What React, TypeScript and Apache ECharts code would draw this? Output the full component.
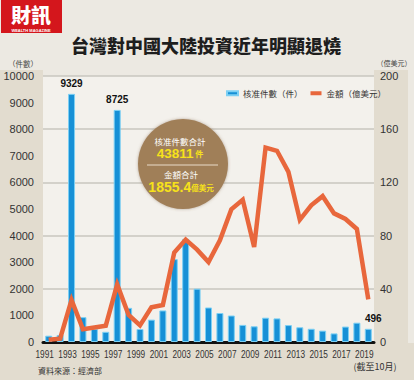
import React, { useEffect, useRef } from "react";
import * as echarts from "echarts";

const years = [
  "1991", "1992", "1993", "1994", "1995", "1996", "1997", "1998", "1999", "2000",
  "2001", "2002", "2003", "2004", "2005", "2006", "2007", "2008", "2009", "2010",
  "2011", "2012", "2013", "2014", "2015", "2016", "2017", "2018", "2019",
];
const caseCounts = [
  237, 264, 9329, 934, 490, 383, 8725, 1284, 488, 840,
  1186, 3116, 3875, 2004, 1297, 1090, 996, 643, 590, 914,
  887, 636, 554, 497, 427, 323, 580, 726, 496,
];
const amounts = [
  1.74, 2.47, 31.68, 9.62, 10.93, 12.29, 43.34, 20.35, 12.53, 26.07,
  27.84, 67.23, 76.99, 69.41, 60.07, 76.42, 99.71, 106.91, 71.43, 146.18,
  143.77, 127.92, 91.9, 102.77, 109.65, 96.71, 92.49, 84.98, 32.01,
];
const tickYears = [
  "1991", "1993", "1995", "1997", "1999", "2001", "2003", "2005",
  "2007", "2009", "2011", "2013", "2015", "2017", "2019",
];
const labeledCaseYears = ["1993", "1997", "2019"];
const labeledAmountYears: Record<string, any> = {
  "2010": { position: "left", offset: [-2, 0] },
  "2011": { position: "right", offset: [2, 9] },
  "2019": { position: "bottom", offset: [-15, 0] },
};
const seriesNames = ["核准件數（件）", "金額（億美元）"];
const totalCases = "43811";
const totalAmount = "1855.4";

const numFont = "'Liberation Sans', sans-serif";
const cjkFont = "'Noto Sans CJK TC', 'Noto Sans CJK SC', sans-serif";

export default function App() {
  const ref = useRef<HTMLDivElement>(null);
  useEffect(() => {
    if (!ref.current) return;
    const chart = echarts.init(ref.current, null, { renderer: "svg" });
    const barData = caseCounts.map((v, i) =>
      labeledCaseYears.includes(years[i])
        ? {
            value: v,
            label: {
              show: true,
              position: "top",
              offset: years[i] === "2019" ? [5, 0] : [0, 0],
              fontSize: 10,
              fontWeight: "bold",
              color: "#111",
              fontFamily: numFont,
            },
          }
        : v
    );
    const lineData = amounts.map((v, i) =>
      labeledAmountYears[years[i]]
        ? {
            value: v,
            label: {
              show: true,
              ...labeledAmountYears[years[i]],
              fontSize: 9.5,
              color: "#9b2335",
              fontFamily: numFont,
            },
          }
        : v
    );
    const option: any = {
      animation: false,
      backgroundColor: "#ece9e2",
      grid: {
        left: 43,
        right: 40,
        top: 76,
        bottom: 38,
        show: true,
        backgroundColor: "#f3f1ec",
        borderWidth: 0,
      },
      legend: {
        data: seriesNames,
        left: 221,
        top: 84,
        icon: "rect",
        itemWidth: 11,
        itemHeight: 4,
        itemGap: 8,
        textStyle: { fontSize: 8.5, color: "#333", fontFamily: cjkFont },
      },
      xAxis: {
        type: "category",
        data: years,
        boundaryGap: true,
        axisLine: { show: true, lineStyle: { color: "#111", width: 3 } },
        axisTick: { show: false },
        axisLabel: { show: false },
      },
      yAxis: [
        {
          type: "value",
          min: 0,
          max: 10000,
          interval: 1000,
          axisLine: { show: false },
          axisTick: { show: false },
          splitLine: { show: false },
          axisLabel: {
            fontSize: 11,
            color: "#333",
            margin: 9,
            fontFamily: numFont,
            formatter: (v: number) => String(v),
          },
        },
        {
          type: "value",
          min: 0,
          max: 200,
          interval: 40,
          position: "right",
          axisLine: { show: false },
          axisTick: { show: false },
          splitLine: { show: true, lineStyle: { color: "#c9c6bf", width: 1.5 } },
          axisLabel: {
            fontSize: 11,
            color: "#333",
            margin: 6,
            fontFamily: numFont,
            formatter: (v: number) => String(v),
          },
        },
      ],
      series: [
        {
          name: seriesNames[0],
          type: "bar",
          yAxisIndex: 0,
          data: barData,
          barWidth: 7,
          itemStyle: { color: "#1690d6", borderColor: "#7cd0f4", borderWidth: 1 },
          z: 2,
        },
        {
          name: seriesNames[1],
          type: "line",
          yAxisIndex: 1,
          data: lineData,
          showSymbol: false,
          symbol: "circle",
          symbolSize: 1,
          lineStyle: { color: "#e8673c", width: 4.5, join: "miter" },
          itemStyle: { color: "#e8673c" },
          z: 3,
        },
        {
          name: "yearTicks",
          type: "custom",
          yAxisIndex: 0,
          data: tickYears.map((y) => [y, 0]),
          encode: { x: 0, y: 1 },
          clip: false,
          silent: true,
          z: 5,
          renderItem: (params: any, api: any) => {
            const p = api.coord([api.value(0), 0]);
            return {
              type: "text",
              x: p[0] - 4,
              y: p[1] + 6,
              scaleX: 0.72,
              style: {
                text: tickYears[params.dataIndex],
                font: "11.5px " + numFont,
                fill: "#333",
                align: "center",
                verticalAlign: "top",
              },
            };
          },
        },
      ],
      graphic: [
        { type: "rect", shape: { x: 0, y: 70, width: 43, height: 310 }, style: { fill: "#e2dccf" }, z: -10, silent: true },
        { type: "rect", shape: { x: 0, y: 343, width: 414, height: 37 }, style: { fill: "#e2dccf" }, z: -10, silent: true },
        { type: "rect", shape: { x: 374, y: 70, width: 34, height: 310 }, style: { fill: "#e2dccf" }, z: -10, silent: true },
        { type: "rect", shape: { x: 1, y: 0, width: 61, height: 33 }, style: { fill: "#d4161c" } },
        {
          type: "text",
          x: 31,
          y: 14,
          style: {
            text: "財訊",
            fill: "#fff",
            font: "900 20px 'Noto Sans CJK TC', serif",
            align: "center",
            verticalAlign: "middle",
          },
        },
        {
          type: "text",
          x: 31,
          y: 30,
          style: {
            text: "WEALTH MAGAZINE",
            fill: "#fff",
            font: "bold 4px 'Liberation Sans', sans-serif",
            align: "center",
            verticalAlign: "middle",
          },
        },
        {
          type: "text",
          x: 206,
          y: 45,
          style: {
            text: "台灣對中國大陸投資近年明顯退燒",
            fill: "#1e1e1e",
            font: "900 18px " + cjkFont,
            align: "center",
            verticalAlign: "middle",
          },
        },
        {
          type: "text",
          x: 23,
          y: 63,
          style: { text: "（件數）", fill: "#444", font: "7.5px " + cjkFont, align: "center", verticalAlign: "middle" },
        },
        {
          type: "text",
          x: 394,
          y: 63,
          style: { text: "（億美元）", fill: "#444", font: "7px " + cjkFont, align: "center", verticalAlign: "middle" },
        },
        {
          type: "text",
          x: 70,
          y: 370,
          style: { text: "資料來源：經濟部", fill: "#333", font: "8px " + cjkFont, align: "center", verticalAlign: "middle" },
        },
        {
          type: "text",
          x: 375,
          y: 366,
          style: { text: "(截至10月)", fill: "#333", font: "9px " + cjkFont, align: "center", verticalAlign: "middle" },
        },
        {
          type: "circle",
          shape: { cx: 183, cy: 164, r: 45 },
          style: { fill: "#a07f59", shadowBlur: 3, shadowColor: "rgba(120,90,60,0.5)" },
          z: 50,
        },
        {
          type: "text",
          x: 180,
          y: 141,
          z: 51,
          style: { text: "核准件數合計", fill: "#fff", font: "8.5px " + cjkFont, align: "center", verticalAlign: "middle" },
        },
        {
          type: "text",
          x: 180,
          y: 153,
          z: 51,
          style: {
            text: "{a|" + totalCases + "}{b| 件}",
            align: "center",
            verticalAlign: "middle",
            rich: {
              a: { fill: "#f7e21a", font: "bold 13.5px 'Liberation Sans', sans-serif" },
              b: { fill: "#f7e21a", font: "bold 8px " + cjkFont },
            },
          },
        },
        {
          type: "line",
          shape: { x1: 147, y1: 165, x2: 218, y2: 165 },
          style: { stroke: "#e9dcc8", lineWidth: 1 },
          z: 51,
        },
        {
          type: "text",
          x: 181,
          y: 174,
          z: 51,
          style: { text: "金額合計", fill: "#fff", font: "8.5px " + cjkFont, align: "center", verticalAlign: "middle" },
        },
        {
          type: "text",
          x: 181,
          y: 187,
          z: 51,
          style: {
            text: "{a|" + totalAmount + "}{b|億美元}",
            align: "center",
            verticalAlign: "middle",
            rich: {
              a: { fill: "#f7e21a", font: "bold 14px 'Liberation Sans', sans-serif" },
              b: { fill: "#f7e21a", font: "bold 7.5px " + cjkFont },
            },
          },
        },
      ],
    };
    chart.setOption(option);
    return () => chart.dispose();
  }, []);
  return (
    <div
      ref={ref}
      style={{ position: "fixed", left: 0, top: 0, width: 414, height: 380 }}
    />
  );
}
